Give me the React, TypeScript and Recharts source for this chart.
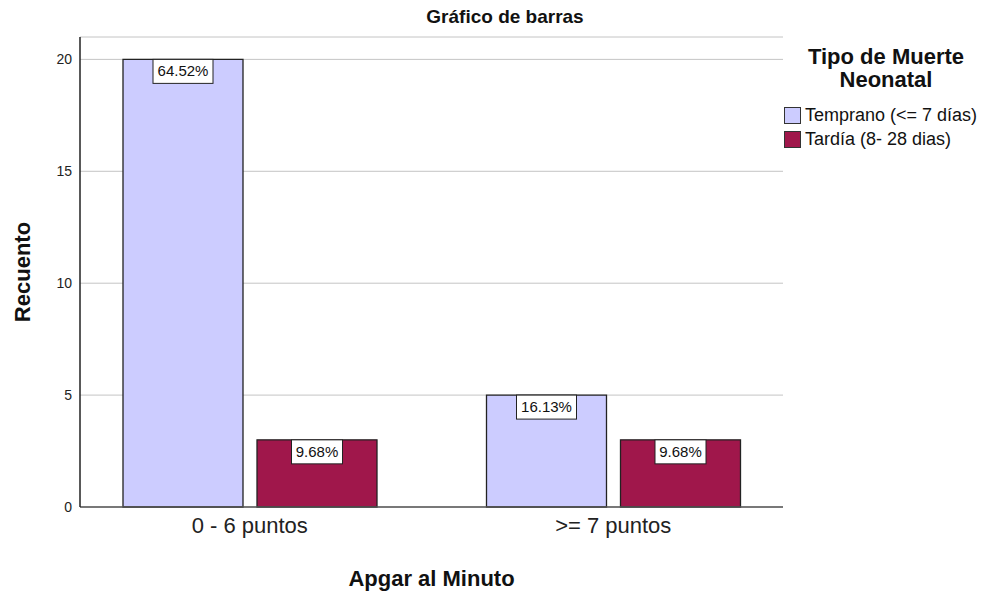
import { BarChart, Bar, XAxis, YAxis, CartesianGrid, LabelList, Label } from 'recharts';

const categories = ['0 - 6 puntos', '>= 7 puntos'];
const temprano = [20, 5];
const tardia = [3, 3];
const tempranoPct = ['64.52%', '16.13%'];
const tardiaPct = ['9.68%', '9.68%'];
const yTicks = [0, 5, 10, 15, 20];

const data = categories.map((c, i) => ({
  cat: c,
  temprano: temprano[i],
  tardia: tardia[i],
  tempranoPct: tempranoPct[i],
  tardiaPct: tardiaPct[i],
}));

const FONT = '"Liberation Sans", Arial, sans-serif';
const C1 = '#ccccff';
const C2 = '#a0174b';

function PctBox(props: any) {
  const { x, y, width, value } = props;
  const w = value.length * 9 + 6;
  const cx = x + width / 2;
  return (
    <g>
      <rect x={cx - w / 2} y={y} width={w} height={24} fill="#fff" stroke="#222" strokeWidth={1} />
      <text x={cx} y={y + 17} textAnchor="middle" fontSize={15} fontFamily={FONT} fill="#111">
        {value}
      </text>
    </g>
  );
}

function LegendBox() {
  const items = [
    { name: 'Temprano (<= 7 días)', color: C1 },
    { name: 'Tardía (8- 28 dias)', color: C2 },
  ];
  return (
    <div style={{ position: 'absolute', left: 784, top: 45, width: 208, fontFamily: FONT, color: '#111' }}>
      <div style={{ fontWeight: 'bold', fontSize: 22, lineHeight: '23px', textAlign: 'center', width: 204 }}>
        Tipo de Muerte<br />Neonatal
      </div>
      <div style={{ marginTop: 12 }}>
        {items.map((it) => (
          <div key={it.name} style={{ display: 'flex', alignItems: 'center', height: 24, fontSize: 18 }}>
            <span
              style={{
                display: 'inline-block',
                width: 15,
                height: 15,
                background: it.color,
                border: '1px solid #333',
                marginRight: 4,
              }}
            />
            {it.name}
          </div>
        ))}
      </div>
    </div>
  );
}

export default function App() {
  return (
    <div style={{ position: 'absolute', left: 0, top: 0, width: 992, height: 592, background: '#fff' }}>
      <div
        style={{
          position: 'absolute',
          top: 6,
          left: 0,
          width: 1010,
          textAlign: 'center',
          fontFamily: FONT,
          fontWeight: 'bold',
          fontSize: 19,
          color: '#111',
        }}
      >
        Gráfico de barras
      </div>
      <BarChart
        width={992}
        height={592}
        data={data}
        margin={{ top: 37, right: 209, left: 0, bottom: 0 }}
        barSize={120}
        barGap={14}
      >
        <CartesianGrid horizontal vertical={false} stroke="#c4c4c4" />
        <XAxis
          dataKey="cat"
          height={85}
          padding={{ left: -12, right: -12 }}
          tickLine={false}
          axisLine={{ stroke: '#555', strokeWidth: 1.5 }}
          tick={{ fontSize: 22, fill: '#222', fontFamily: FONT }}
          tickMargin={4}
        >
          <Label
            value="Apgar al Minuto"
            position="insideBottom"
            offset={6}
            style={{ fontSize: 22, fontWeight: 'bold', fill: '#111', fontFamily: FONT }}
          />
        </XAxis>
        <YAxis
          width={80}
          domain={[0, 21]}
          ticks={yTicks}
          tickLine={false}
          axisLine={{ stroke: '#222', strokeWidth: 1.5 }}
          tick={{ fontSize: 14, fill: '#222', fontFamily: FONT }}
        >
          <Label
            content={({ viewBox }: any) => {
              const cy = viewBox.y + viewBox.height / 2;
              return (
                <text
                  x={30}
                  y={cy}
                  transform={`rotate(-90 30 ${cy})`}
                  textAnchor="middle"
                  fontSize={22}
                  fontWeight="bold"
                  fill="#111"
                  fontFamily={FONT}
                >
                  Recuento
                </text>
              );
            }}
          />
        </YAxis>
        <Bar dataKey="temprano" name="Temprano (<= 7 días)" fill={C1} stroke="#222" strokeWidth={1.3} isAnimationActive={false}>
          <LabelList dataKey="tempranoPct" content={PctBox} />
        </Bar>
        <Bar dataKey="tardia" name="Tardía (8- 28 dias)" fill={C2} stroke="#222" strokeWidth={1.3} isAnimationActive={false}>
          <LabelList dataKey="tardiaPct" content={PctBox} />
        </Bar>
      </BarChart>
      <LegendBox />
    </div>
  );
}
